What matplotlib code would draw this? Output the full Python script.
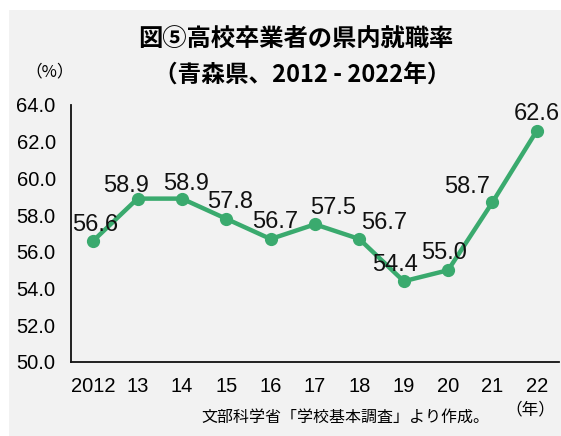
import matplotlib
matplotlib.use('Agg')
import matplotlib.pyplot as plt
from matplotlib.font_manager import fontManager
from matplotlib.patches import Rectangle

# data
years = ['2012', '13', '14', '15', '16', '17', '18', '19', '20', '21', '22']
rates = [56.6, 58.9, 58.9, 57.8, 56.7, 57.5, 56.7, 54.4, 55.0, 58.7, 62.6]
y_ticks = [50.0, 52.0, 54.0, 56.0, 58.0, 60.0, 62.0, 64.0]

# label offsets from each point, in pixels
label_dx = [2, -11, 4, 4, 5, 18, 25, -9, -4, -25, 0]
label_dy = [16, 13, 15, 17, 17, 16, 16, 16, 17, 15, 17]

GREEN = '#3aaa6e'
BG = '#f2f2f2'

names = {f.name for f in fontManager.ttflist}
narrow = 'Liberation Sans Narrow' if 'Liberation Sans Narrow' in names else 'Liberation Sans'
jp = 'Noto Sans CJK JP'
num_font = [narrow, jp]
plt.rcParams['font.family'] = [jp, 'DejaVu Sans']

fig = plt.figure(figsize=(5.61, 4.36), dpi=100)
fig.patches.append(Rectangle((9 / 561, 0), 1, 1 - 10 / 436, transform=fig.transFigure,
                             facecolor=BG, edgecolor='none', zorder=-10))

ax = fig.add_axes([71 / 561, 1 - 362 / 436, (559 - 71) / 561, (362 - 105) / 436])
ax.set_facecolor('none')

x = list(range(len(years)))
ax.plot(x, rates, color=GREEN, lw=3.2, marker='o', ms=8.5, solid_capstyle='round')

for i in range(len(rates)):
    ax.annotate('%.1f' % rates[i], (x[i], rates[i]),
                xytext=(label_dx[i], label_dy[i]), textcoords='offset pixels',
                ha='center', va='center', fontsize=17, family=num_font, color='#111111')

ax.set_xlim(-0.5, len(years) - 0.5)
ax.set_ylim(50, 64)
ax.set_xticks(x)
ax.set_xticklabels(years, family=num_font, fontsize=14.5)
ax.set_yticks(y_ticks)
ax.set_yticklabels(['%.1f' % v for v in y_ticks], family=num_font, fontsize=14.5)
ax.tick_params(length=0)
ax.tick_params(axis='y', pad=11)
ax.tick_params(axis='x', pad=11)

for side in ['top', 'right']:
    ax.spines[side].set_visible(False)
for side in ['left', 'bottom']:
    ax.spines[side].set_linewidth(1.3)
    ax.spines[side].set_color('#111111')

fig.text(296 / 561, 1 - 40 / 436, '図⑤高校卒業者の県内就職率', ha='center', va='center',
         fontsize=17.5, fontweight='bold', family=[jp])
fig.text(302 / 561, 1 - 75 / 436, '（青森県、2012 - 2022年）', ha='center', va='center',
         fontsize=17, fontweight='bold', family=[jp])
fig.text(50 / 561, 1 - 72 / 436, '（%）', ha='center', va='center', fontsize=12, family=[jp])
fig.text(530 / 561, 1 - 410 / 436, '（年）', ha='center', va='center', fontsize=12, family=[jp])
fig.text(345 / 561, 1 - 417 / 436, '文部科学省「学校基本調査」より作成。', ha='center', va='center',
         fontsize=11.5, family=[jp])

fig.savefig('out.png', dpi=100)
